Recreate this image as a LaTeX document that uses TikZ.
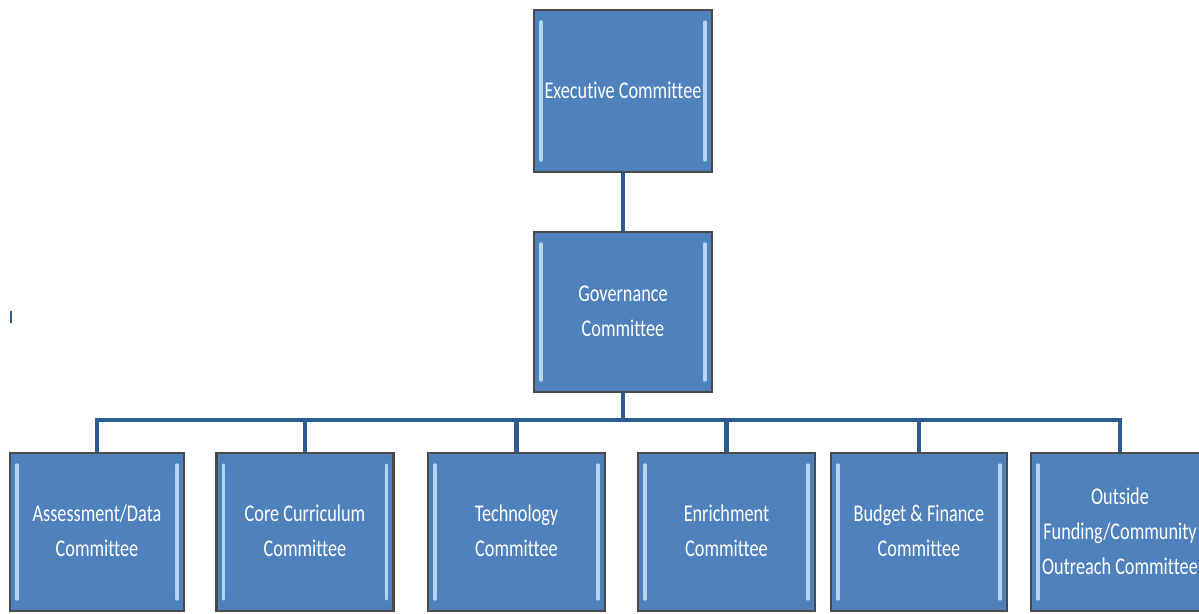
\documentclass[tikz,border=0pt]{standalone}
\usepackage{fontspec}
\setmainfont[Ligatures=NoCommon]{Carlito}
\usepackage{graphicx}

\definecolor{boxfill}{HTML}{4F81BD}
\definecolor{boxedge}{HTML}{4A4A4A}
\definecolor{bevel}{HTML}{B4D5F4}
\definecolor{link}{HTML}{2B5D91}

% condensed, centred label text
\newcommand\boxtext[1]{\scalebox{0.76}[1]{\fontsize{24}{35}\selectfont\begin{tabular}{@{}c@{}}#1\end{tabular}}}

\tikzset{
  cbox/.style={draw=boxedge, line width=2.5pt, fill=boxfill, text=white,
    inner sep=0pt, minimum height=158pt, minimum width=177pt,
    path picture={
      \draw[bevel, line width=3.4pt, line cap=round]
        ([xshift=7pt,yshift=-12pt]path picture bounding box.north west) --
        ([xshift=7pt,yshift=12pt]path picture bounding box.south west);
      \draw[bevel, line width=3.4pt, line cap=round]
        ([xshift=-7pt,yshift=-12pt]path picture bounding box.north east) --
        ([xshift=-7pt,yshift=12pt]path picture bounding box.south east);
    }},
  conn/.style={draw=link, line width=4.2pt}
}

\begin{document}
\begin{tikzpicture}[x=1pt, y=-1pt]
  \useasboundingbox (0,0) rectangle (1199,613);
  \clip (0,0) rectangle (1199,613);

  \coordinate (bus) at (623,420);

  % boxes
  \node[cbox, minimum width=178pt, minimum height=162pt] (exec) at (623,91) {\boxtext{Executive Committee}};
  \node[cbox, minimum width=178pt, minimum height=160pt] (gov) at (623,312) {\boxtext{Governance\\Committee}};

  \node[cbox, minimum width=174pt] (b1) at (97,532) {\boxtext{Assessment/Data\\Committee}};
  \node[cbox] (b2) at (305,532) {\boxtext{Core Curriculum\\Committee}};
  \node[cbox] (b3) at (516.5,532) {\boxtext{Technology\\Committee}};
  \node[cbox] (b4) at (726.5,532) {\boxtext{Enrichment\\Committee}};
  \node[cbox, minimum width=176pt] (b5) at (919,532) {\boxtext{Budget \& Finance\\Committee}};
  \node[cbox, minimum width=178pt] (b6) at (1120,532) {\boxtext{Outside\\Funding/Community\\Outreach Committee}};

  % connectors
  \draw[conn] (exec.south) -- (gov.north);
  \draw[conn] (gov.south) -- (bus);
  \foreach \b in {b1,b2,b3,b4,b5,b6}
    \draw[conn] (bus) -| (\b.north);

  % stray mark at the left edge
  \draw[draw=link, line width=1.6pt] (11,311) -- (11,323);
\end{tikzpicture}
\end{document}
